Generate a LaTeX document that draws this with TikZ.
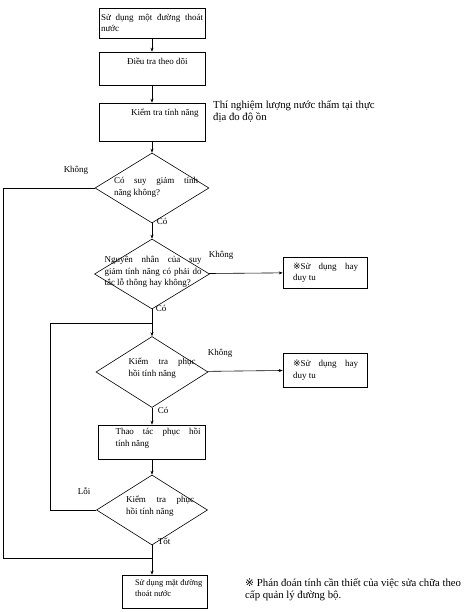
\documentclass[tikz,border=0pt]{standalone}
\usepackage{fontspec}
\setmainfont{Liberation Serif}
\newfontfamily\marksymfont{DejaVu Sans}
\usetikzlibrary{arrows.meta,shapes.geometric}
\newcommand{\chartfont}{\fontsize{9}{11.5}\selectfont}
\newcommand{\notefont}{\fontsize{10.75}{12}\selectfont}
\newcommand{\refmark}{{\marksymfont ※}}
\newcommand{\dtext}[4]{\makebox[0pt]{\hspace*{#1}\raisebox{#2}{\smash{\parbox{#3}{#4}}}}}

\begin{document}
\begin{tikzpicture}[x=1pt,y=-1pt,
  stepbox/.style={draw,line width=0.6pt,inner sep=2pt,minimum width=106pt,font=\chartfont},
  decision/.style={draw,diamond,line width=0.6pt,inner sep=0pt,font=\chartfont},
  tag/.style={inner sep=0pt,font=\chartfont},
  flow/.style={line width=0.6pt,-{Stealth[length=4pt,width=3pt]}},
  link/.style={line width=0.6pt}]
  \useasboundingbox (0,0) rectangle (466,612);
  % main column
  \node[stepbox,minimum height=30pt] (start) at (152,23)
    {\parbox{102pt}{Sử dụng một đường thoát\linebreak nước}};
  \node[stepbox,minimum height=33pt] (survey) at (152,68.5)
    {\parbox[c][29pt][t]{102pt}{\vspace*{4pt}\hspace*{26pt}Điều tra theo dõi}};
  \node[stepbox,minimum height=38pt] (check) at (152,122)
    {\parbox[c][34pt][t]{102pt}{\vspace*{4pt}\hspace*{30pt}Kiểm tra tính năng}};
  \node[decision,minimum width=114pt,minimum height=70pt] (dec1) at (152,188)
    {\dtext{8pt}{-3pt}{84pt}{Có suy giảm tính\linebreak năng không?}};
  \node[decision,minimum width=115pt,minimum height=70pt] (dec2) at (152,274)
    {\dtext{2pt}{-1pt}{97pt}{Nguyên nhân của suy\linebreak giảm tính năng có phải do\linebreak tắc lỗ thông hay không?}};
  \node[decision,minimum width=112pt,minimum height=71pt] (dec3) at (152,372)
    {\dtext{20pt}{3pt}{67pt}{Kiểm tra phục\linebreak hồi tính năng}};
  \node[stepbox,minimum width=107pt,minimum height=34pt] (restore) at (152,442)
    {\parbox[c][30pt][t]{103pt}{\vspace*{1pt}\leftskip=15pt\rightskip=3pt Thao tác phục hồi\linebreak tính năng}};
  \node[decision,minimum width=111pt,minimum height=70pt] (dec4) at (152,510)
    {\dtext{16pt}{3pt}{68pt}{Kiểm tra phục\linebreak hồi tính năng}};
  \node[stepbox,minimum width=85pt,minimum height=33pt,font=\fontsize{8.5}{11}\selectfont] (final) at (164.5,591.5)
    {\parbox[c][29pt][t]{81pt}{\vspace*{3pt}\leftskip=11pt Sử dụng mặt đường\newline thoát nước}};
  % side boxes
  \node[stepbox,minimum width=84pt,minimum height=31pt] (maint1) at (325,272.5)
    {\parbox{80pt}{\leftskip=8pt\rightskip=7pt \refmark Sử dụng hay\linebreak duy tu}};
  \node[stepbox,minimum width=84pt,minimum height=34pt] (maint2) at (325,370)
    {\parbox{80pt}{\leftskip=8pt\rightskip=7pt \refmark Sử dụng hay\linebreak duy tu}};
  % notes
  \node[tag,font=\notefont,align=left,anchor=north west] (fieldnote) at (213,101)
    {Thí nghiệm lượng nước thấm tại thực\\địa đo độ ồn};
  \node[tag,font=\notefont,align=left,anchor=north west] (footnote) at (245,579)
    {\refmark{} Phán đoán tính cần thiết của việc sửa chữa theo\\cấp quản lý đường bộ.};
  % branch labels
  \node[tag] (no1) at (76,170) {Không};
  \node[tag] (yes1) at (162,221) {Có};
  \node[tag] (no2) at (221,255) {Không};
  \node[tag] (yes2) at (161,308) {Có};
  \node[tag] (no3) at (220,353) {Không};
  \node[tag] (yes3) at (163,410) {Có};
  \node[tag] (fail) at (84,491) {Lỗi};
  \node[tag] (ok) at (164,541) {Tốt};
  % loop corners
  \coordinate (railA) at (3,558);
  \coordinate (merge) at (152,558);
  \coordinate (railB) at (50,323);
  \coordinate (retry) at (152,323);
  % connectors
  \draw[flow] (start) -- (survey);
  \draw[flow] (survey) -- (check);
  \draw[flow] (check) -- (dec1);
  \draw[flow] (dec1) -- (dec2);
  \draw[flow] (dec2) -- (dec3);
  \draw[flow] (dec2) -- (maint1);
  \draw[flow] (dec3) -- (maint2);
  \draw[flow] (dec3) -- (restore);
  \draw[flow] (restore) -- (dec4);
  \draw[flow] (dec4.south) -- (dec4.south |- final.north);
  \draw[link] (dec1.west) -| (railA) -- (merge);
  \draw[link] (dec4.west) -| (railB) -- (retry);
\end{tikzpicture}
\end{document}
